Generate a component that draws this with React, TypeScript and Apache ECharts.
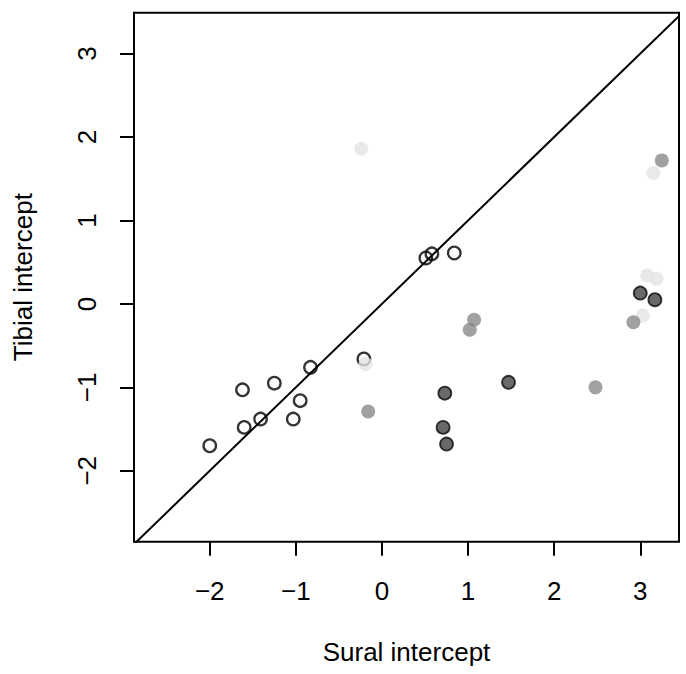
import { useEffect, useRef } from "react";
import * as echarts from "echarts";

// Tick positions and axis extents
const xTicks = [-2, -1, 0, 1, 2, 3];
const yTicks = [-2, -1, 0, 1, 2, 3];
const xRange = [-2.88, 3.45];
const yRange = [-2.85, 3.49];

// [sural, tibial] intercept pairs, one array per group
const openPoints = [
  [-2.0, -1.7], [-1.62, -1.03], [-1.6, -1.48], [-1.41, -1.38],
  [-1.25, -0.95], [-1.03, -1.38], [-0.95, -1.16], [-0.83, -0.76],
  [-0.21, -0.66], [0.51, 0.55], [0.58, 0.6], [0.84, 0.61],
];
const lightPoints = [
  [-0.24, 1.86], [-0.19, -0.72], [3.15, 1.57], [3.08, 0.34], [3.19, 0.3], [3.03, -0.14],
];
const grayPoints = [
  [-0.16, -1.29], [1.07, -0.19], [1.02, -0.31], [2.48, -1.0], [2.92, -0.22], [3.25, 1.72],
];
const darkPoints = [
  [0.73, -1.07], [0.71, -1.48], [0.75, -1.68], [1.47, -0.94], [3.0, 0.13], [3.17, 0.05],
];

// Line of identity (tibial = sural)
const identityLine = [[-4, -4], [4, 4]];

const FONT = "'Liberation Sans', Arial, Helvetica, sans-serif";
const minusSign = (v: number) => String(v).replace("-", "\u2212");

export default function App() {
  const ref = useRef<HTMLDivElement>(null);

  useEffect(() => {
    if (!ref.current) return;
    const chart = echarts.init(ref.current, undefined, { renderer: "svg" });
    const textStyle = { fontFamily: FONT, fontSize: 26, color: "#000" };
    chart.setOption({
      animation: false,
      backgroundColor: "#fff",
      grid: {
        left: 134,
        top: 12.7,
        right: 7,
        bottom: 132.3,
        show: true,
        borderColor: "#000",
        borderWidth: 2,
        backgroundColor: "transparent",
      },
      xAxis: {
        type: "value",
        min: xRange[0],
        max: xRange[1],
        splitLine: { show: false },
        axisLine: { show: false, onZero: false },
        axisTick: {
          show: true,
          inside: false,
          length: 14,
          customValues: xTicks,
          lineStyle: { color: "#000", width: 2 },
        },
        axisLabel: {
          customValues: xTicks,
          formatter: minusSign,
          margin: 36,
          ...textStyle,
        },
        name: "Sural intercept",
        nameLocation: "middle",
        nameGap: 97,
        nameTextStyle: textStyle,
      },
      yAxis: {
        type: "value",
        min: yRange[0],
        max: yRange[1],
        splitLine: { show: false },
        axisLine: { show: false, onZero: false },
        axisTick: {
          show: true,
          inside: false,
          length: 14,
          customValues: yTicks,
          lineStyle: { color: "#000", width: 2 },
        },
        axisLabel: {
          customValues: yTicks,
          formatter: minusSign,
          rotate: 90,
          margin: 34,
          ...textStyle,
        },
        name: "Tibial intercept",
        nameLocation: "middle",
        nameRotate: 90,
        nameGap: 98,
        nameTextStyle: textStyle,
      },
      series: [
        {
          type: "line",
          data: identityLine,
          symbol: "none",
          clip: true,
          silent: true,
          lineStyle: { color: "#000", width: 2 },
        },
        {
          type: "scatter",
          data: openPoints,
          symbol: "circle",
          symbolSize: 12.5,
          itemStyle: { color: "rgba(0,0,0,0)", borderColor: "#000", borderWidth: 2.3 },
        },
        {
          type: "scatter",
          data: lightPoints,
          symbol: "circle",
          symbolSize: 14,
          itemStyle: { color: "#e4e4e4" },
        },
        {
          type: "scatter",
          data: grayPoints,
          symbol: "circle",
          symbolSize: 14,
          itemStyle: { color: "#8a8a8a" },
        },
        {
          type: "scatter",
          data: darkPoints,
          symbol: "circle",
          symbolSize: 13,
          itemStyle: { color: "#444", borderColor: "#0a0a0a", borderWidth: 1.8 },
        },
      ],
    });
    return () => chart.dispose();
  }, []);

  return (
    <div
      ref={ref}
      style={{ position: "fixed", left: 0, top: 0, width: 686, height: 674 }}
    />
  );
}
